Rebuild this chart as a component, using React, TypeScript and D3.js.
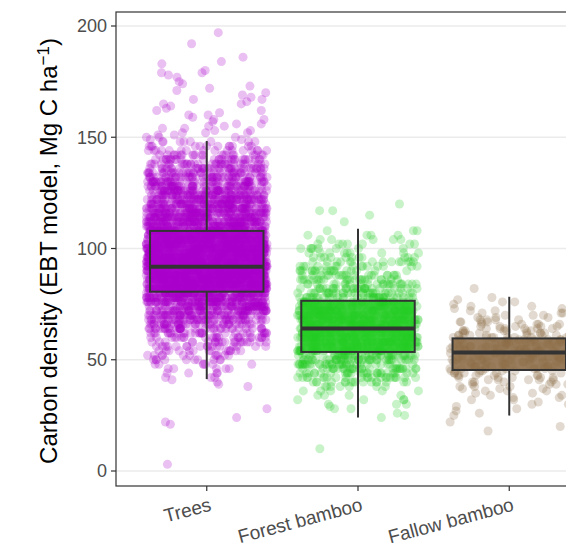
import React from "react";
import * as d3 from "d3";

// land-cover classes
const categories = ["Trees", "Forest bamboo", "Fallow bamboo"];
const colors = ["#AA00CC", "#22CC22", "#8B6B45"];

// box stats: lower whisker, q1, median, q3, upper whisker
const whiskerLow = [41.3, 24.1, 24.9];
const q1 = [80.6, 53.5, 45.4];
const median = [91.8, 64.1, 53.3];
const q3 = [107.9, 76.5, 59.6];
const whiskerHigh = [148.3, 108.9, 78.3];

// jittered plots, dense parts as value levels + counts
const treesLevels = [42, 44, 46, 48, 50, 52, 54, 56, 58, 60, 62, 64, 66, 68, 70, 72, 74, 76, 78, 80, 82, 84, 86, 88, 90, 92, 94, 96, 98, 100, 102, 104, 106, 108, 110, 112, 114, 116, 118, 120, 122, 124, 126, 128, 130, 132, 134, 136, 138, 140, 142, 144, 146, 148];
const treesCounts = [3, 4, 5, 7, 10, 11, 14, 17, 20, 24, 28, 34, 39, 46, 53, 62, 71, 81, 90, 98, 102, 106, 109, 112, 112, 112, 111, 108, 105, 102, 98, 96, 94, 92, 90, 88, 85, 80, 76, 72, 68, 64, 59, 54, 50, 45, 40, 36, 32, 27, 21, 16, 12, 8];
const treesTail = [3, 21, 22, 24, 28, 38, 39, 40, 41, 149, 149, 150, 150, 150, 151, 151, 152, 152, 152, 153, 153, 154, 154, 155, 155, 156, 156, 157, 158, 158, 159, 160, 160, 161, 162, 162, 163, 164, 165, 165, 166, 167, 167, 168, 169, 170, 171, 172, 173, 174, 175, 177, 178, 179, 179, 180, 183, 184, 186, 192, 197];

const forestLevels = [26, 28, 30, 32, 34, 36, 38, 40, 42, 44, 46, 48, 50, 52, 54, 56, 58, 60, 62, 64, 66, 68, 70, 72, 74, 76, 78, 80, 82, 84, 86, 88, 90, 92, 94, 96, 98, 100, 102, 104, 106, 108];
const forestCounts = [1, 2, 3, 3, 4, 5, 7, 16, 22, 26, 28, 34, 38, 40, 43, 46, 47, 49, 49, 49, 47, 46, 43, 40, 38, 35, 32, 30, 26, 23, 22, 19, 18, 15, 14, 11, 9, 8, 7, 5, 4, 3];
const forestTail = [10, 24, 25, 29, 32, 112, 115, 117, 117, 120];

const fallowLevels = [25, 26, 27, 28, 29, 30, 31, 32, 33, 34, 35, 36, 37, 38, 39, 40, 41, 42, 43, 44, 45, 46, 47, 48, 49, 50, 51, 52, 53, 54, 55, 56, 57, 58, 59, 60, 61, 62, 63, 64, 65, 66, 67, 68, 69, 70, 71, 72, 73, 74, 75, 76, 77, 78];
const fallowCounts = [1, 1, 1, 1, 1, 2, 1, 2, 2, 2, 2, 3, 3, 3, 4, 4, 5, 5, 6, 6, 7, 7, 8, 8, 8, 9, 9, 9, 10, 10, 10, 9, 10, 9, 9, 8, 8, 7, 7, 6, 5, 5, 4, 4, 3, 3, 3, 2, 2, 2, 1, 2, 1, 1];
const fallowTail = [18, 20, 22, 82];

const yTicks = [0, 50, 100, 150, 200];

function expand(levels: number[], counts: number[], tail: number[]) {
  const out: number[] = [];
  levels.forEach((v, k) => {
    for (let c = 0; c < counts[k]; c++) out.push(v);
  });
  return out.concat(tail);
}

// deterministic horizontal jitter in [0,1)
function jitter(i: number, g: number) {
  let h = Math.imul(i + 1, 2654435761) ^ Math.imul(g + 7, 40503);
  h ^= h >>> 15;
  h = Math.imul(h, 2246822519);
  h ^= h >>> 13;
  h = Math.imul(h, 3266489917);
  h ^= h >>> 16;
  return (h >>> 0) / 4294967296;
}

const groups = [
  expand(treesLevels, treesCounts, treesTail),
  expand(forestLevels, forestCounts, forestTail),
  expand(fallowLevels, fallowCounts, fallowTail),
];

export default function App() {
  const W = 566;
  const H = 546;
  const panel = { left: 116, right: 600, top: 12, bottom: 486 };

  const x = d3.scalePoint<string>().domain(categories).range([panel.left, panel.right]).padding(0.6);
  const y = d3.scaleLinear().domain([0, 200]).range([471, 26]);
  const step = x.step();
  const boxW = step * 0.75;
  const font = "'Liberation Sans', Arial, Helvetica, sans-serif";

  return (
    <div style={{ position: "absolute", left: 0, top: 0 }}>
      <svg width={W} height={H} style={{ display: "block", background: "#fff" }} fontFamily={font}>
        {yTicks.map((t) => (
          <line key={t} x1={panel.left} x2={panel.right} y1={y(t)} y2={y(t)} stroke="#EBEBEB" strokeWidth={1.4} />
        ))}

        {groups.map((vals, g) => {
          const cx = x(categories[g])!;
          return (
            <g key={g} fill={colors[g]} fillOpacity={0.25}>
              {vals.map((v, i) => (
                <circle key={i} cx={cx + (jitter(i, g) - 0.5) * 0.8 * step} cy={y(v)} r={4.5} />
              ))}
            </g>
          );
        })}

        {categories.map((c, g) => {
          const cx = x(c)!;
          return (
            <g key={c} stroke="#333333">
              <line x1={cx} x2={cx} y1={y(whiskerHigh[g])} y2={y(q3[g])} strokeWidth={2} />
              <line x1={cx} x2={cx} y1={y(q1[g])} y2={y(whiskerLow[g])} strokeWidth={2} />
              <rect
                x={cx - boxW / 2}
                y={y(q3[g])}
                width={boxW}
                height={y(q1[g]) - y(q3[g])}
                fill={colors[g]}
                fillOpacity={0.88}
                strokeWidth={2}
              />
              <line x1={cx - boxW / 2} x2={cx + boxW / 2} y1={y(median[g])} y2={y(median[g])} strokeWidth={4} />
            </g>
          );
        })}

        <rect
          x={panel.left}
          y={panel.top}
          width={panel.right - panel.left}
          height={panel.bottom - panel.top}
          fill="none"
          stroke="#333333"
          strokeWidth={1.2}
        />

        {yTicks.map((t) => (
          <g key={t}>
            <line x1={panel.left - 5} x2={panel.left} y1={y(t)} y2={y(t)} stroke="#333333" strokeWidth={1.2} />
            <text x={panel.left - 9} y={y(t)} dy="0.35em" textAnchor="end" fontSize={18} fill="#4D4D4D">
              {t}
            </text>
          </g>
        ))}

        {categories.map((c) => (
          <g key={c}>
            <line x1={x(c)} x2={x(c)} y1={panel.bottom} y2={panel.bottom + 5} stroke="#333333" strokeWidth={1.2} />
            <text
              transform={`translate(${x(c)! + 2},${panel.bottom + 11}) rotate(-15)`}
              dy="0.72em"
              textAnchor="end"
              fontSize={19}
              fill="#4D4D4D"
            >
              {c}
            </text>
          </g>
        ))}

        <text transform={`translate(57,251) rotate(-90)`} textAnchor="middle" fontSize={24} fill="#000">
          <tspan>Carbon density (EBT model, Mg C ha</tspan>
          <tspan dy={-8} fontSize={17}>−1</tspan>
          <tspan dy={8}>)</tspan>
        </text>
      </svg>
    </div>
  );
}
